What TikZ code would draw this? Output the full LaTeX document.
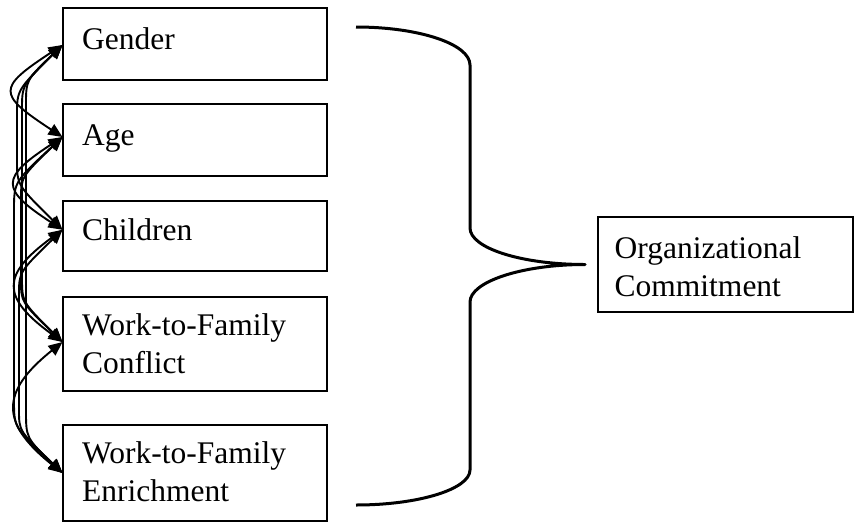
\documentclass[tikz,border=0pt]{standalone}
\usepackage{fontspec}
\setmainfont{Liberation Serif}
\usetikzlibrary{arrows.meta}
\begin{document}
\begin{tikzpicture}[x=1pt,y=-1pt,
  box/.style={draw, line width=2pt, outer sep=0pt, inner sep=0pt, anchor=north west},
  boxtext/.style={anchor=base west, inner sep=0pt, align=left, font=\fontsize{31.5}{38}\selectfont},
  link/.style={line width=1.9pt, >={Triangle[length=14pt,width=12pt]}, <->},
  braceline/.style={line width=3pt, line join=round}]
\useasboundingbox (0,0) rectangle (854,523);

% predictor boxes
\node[box, minimum width=264.5pt, minimum height=72pt]   (g) at (62.5,7.5) {};
\node[box, minimum width=264.5pt, minimum height=72pt]   (a) at (62.5,104) {};
\node[box, minimum width=264.5pt, minimum height=70.5pt] (c) at (62.5,200.5) {};
\node[box, minimum width=264.5pt, minimum height=94pt]   (f) at (62.5,297) {};
\node[box, minimum width=264.5pt, minimum height=96pt]   (e) at (62.5,425) {};
% outcome box
\node[box, minimum width=255pt, minimum height=95pt]     (o) at (598,217) {};

% box labels (base anchor = baseline of the last line)
\node[boxtext] (gt) at ([shift={(19.5,42)}]g.north west) {Gender};
\node[boxtext] (at) at ([shift={(19.5,41)}]a.north west) {Age};
\node[boxtext] (ct) at ([shift={(19.5,40)}]c.north west) {Children};
\node[boxtext] (ft) at ([shift={(19.5,76)}]f.north west) {Work-to-Family\\Conflict};
\node[boxtext] (et) at ([shift={(19.5,76)}]e.north west) {Work-to-Family\\Enrichment};
\node[boxtext] (ot) at ([shift={(16.5,79)}]o.north west) {Organizational\\Commitment};

% connector end points on the left edges
\coordinate (gp) at ([yshift=-1.5pt]g.west);
\coordinate (ap) at ([yshift=3pt]a.west);
\coordinate (cp) at ([yshift=6pt]c.west);
\coordinate (fp) at ([yshift=2pt]f.west);
\coordinate (ep) at (e.west);

% correlations between neighbouring boxes
\draw[link] (gp) .. controls (-3,88) and (-3,94) .. (ap);
\draw[link] (ap) .. controls (0,178) and (0,189) .. (cp);
\draw[link] (cp) .. controls (1,275) and (1,297) .. (fp);
\draw[link] (fp) .. controls (0,392) and (0,423) .. (ep);
% correlations spanning several boxes
\draw[link] (gp) .. controls (17,90) .. (17,115) -- (17,160) .. controls (17,185) .. (cp);
\draw[link] (gp) .. controls (22,85) .. (22,110) -- (22,277) .. controls (22,302) .. (fp);
\draw[link] (gp) .. controls (26,80) .. (26,105) -- (26,410) .. controls (26,438) .. (ep);
\draw[link] (ap) .. controls (21,177) .. (21,200) -- (21,280) .. controls (21,302) .. (fp);
\draw[link] (ap) .. controls (14,182) .. (14,210) -- (14,400) .. controls (14,428) .. (ep);
\draw[link] (cp) .. controls (19,272) .. (19,295) -- (19,410) .. controls (19,431) .. (ep);

% right brace towards the outcome box
\coordinate (tip) at ([xshift=-13pt]o.west);
\draw[braceline] (356,27) .. controls (419,27) and (470,44) .. (470,65)
  -- (470,228) .. controls (470,248) and (521,264.5) .. (tip)
  .. controls (521,264.5) and (470,282) .. (470,302)
  -- (470,470) .. controls (470,489) and (419,505) .. (356,505);
\end{tikzpicture}
\end{document}
